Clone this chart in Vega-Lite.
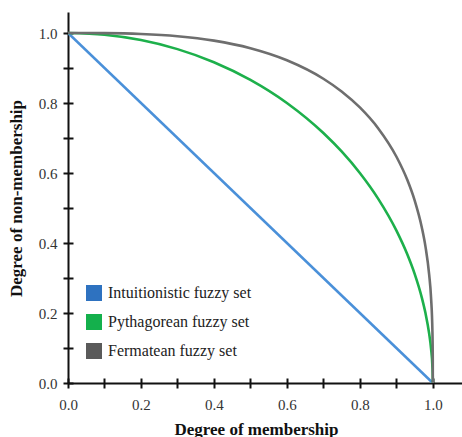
{
  "$schema": "https://vega.github.io/schema/vega-lite/v6.json",
  "autosize": "none",
  "width": 394,
  "height": 371,
  "padding": {"left": 68, "top": 12, "right": 0, "bottom": 54},
  "background": "white",
  "config": {
    "font": "Liberation Serif, Times New Roman, serif",
    "view": {"stroke": null},
    "axis": {"grid": false, "labelFlush": false, "domainColor": "#111", "domainWidth": 2, "tickColor": "#111", "tickWidth": 2, "labelFont": "Liberation Serif, Times New Roman, serif", "labelFontSize": 15, "labelColor": "#333", "titleFont": "Liberation Serif, Times New Roman, serif", "titleFontSize": 17, "titleFontWeight": "bold", "titleColor": "#111"}
  },
  "datasets": {
    "curves": [
      {"set": "Intuitionistic fuzzy set", "mu": 0, "nu": 1},
      {"set": "Intuitionistic fuzzy set", "mu": 1, "nu": 0},
      {"set": "Pythagorean fuzzy set", "mu": 0, "nu": 1},
      {"set": "Pythagorean fuzzy set", "mu": 0.1, "nu": 0.99499},
      {"set": "Pythagorean fuzzy set", "mu": 0.2, "nu": 0.9798},
      {"set": "Pythagorean fuzzy set", "mu": 0.3, "nu": 0.95394},
      {"set": "Pythagorean fuzzy set", "mu": 0.4, "nu": 0.91652},
      {"set": "Pythagorean fuzzy set", "mu": 0.5, "nu": 0.86603},
      {"set": "Pythagorean fuzzy set", "mu": 0.6, "nu": 0.8},
      {"set": "Pythagorean fuzzy set", "mu": 0.7, "nu": 0.71414},
      {"set": "Pythagorean fuzzy set", "mu": 0.75, "nu": 0.66144},
      {"set": "Pythagorean fuzzy set", "mu": 0.8, "nu": 0.6},
      {"set": "Pythagorean fuzzy set", "mu": 0.85, "nu": 0.52678},
      {"set": "Pythagorean fuzzy set", "mu": 0.9, "nu": 0.43589},
      {"set": "Pythagorean fuzzy set", "mu": 0.93, "nu": 0.36756},
      {"set": "Pythagorean fuzzy set", "mu": 0.95, "nu": 0.31225},
      {"set": "Pythagorean fuzzy set", "mu": 0.97, "nu": 0.2431},
      {"set": "Pythagorean fuzzy set", "mu": 0.98, "nu": 0.199},
      {"set": "Pythagorean fuzzy set", "mu": 0.99, "nu": 0.14107},
      {"set": "Pythagorean fuzzy set", "mu": 0.995, "nu": 0.09987},
      {"set": "Pythagorean fuzzy set", "mu": 0.999, "nu": 0.04471},
      {"set": "Pythagorean fuzzy set", "mu": 0.9999, "nu": 0.01414},
      {"set": "Pythagorean fuzzy set", "mu": 1, "nu": 0},
      {"set": "Fermatean fuzzy set", "mu": 0, "nu": 1},
      {"set": "Fermatean fuzzy set", "mu": 0.1, "nu": 0.99967},
      {"set": "Fermatean fuzzy set", "mu": 0.2, "nu": 0.99733},
      {"set": "Fermatean fuzzy set", "mu": 0.3, "nu": 0.99092},
      {"set": "Fermatean fuzzy set", "mu": 0.4, "nu": 0.97819},
      {"set": "Fermatean fuzzy set", "mu": 0.5, "nu": 0.95647},
      {"set": "Fermatean fuzzy set", "mu": 0.6, "nu": 0.92209},
      {"set": "Fermatean fuzzy set", "mu": 0.7, "nu": 0.86934},
      {"set": "Fermatean fuzzy set", "mu": 0.75, "nu": 0.83305},
      {"set": "Fermatean fuzzy set", "mu": 0.8, "nu": 0.78728},
      {"set": "Fermatean fuzzy set", "mu": 0.85, "nu": 0.72801},
      {"set": "Fermatean fuzzy set", "mu": 0.9, "nu": 0.64713},
      {"set": "Fermatean fuzzy set", "mu": 0.93, "nu": 0.58053},
      {"set": "Fermatean fuzzy set", "mu": 0.95, "nu": 0.52248},
      {"set": "Fermatean fuzzy set", "mu": 0.97, "nu": 0.44366},
      {"set": "Fermatean fuzzy set", "mu": 0.98, "nu": 0.38889},
      {"set": "Fermatean fuzzy set", "mu": 0.99, "nu": 0.30968},
      {"set": "Fermatean fuzzy set", "mu": 0.995, "nu": 0.24622},
      {"set": "Fermatean fuzzy set", "mu": 0.999, "nu": 0.14418},
      {"set": "Fermatean fuzzy set", "mu": 0.9999, "nu": 0.06693},
      {"set": "Fermatean fuzzy set", "mu": 1, "nu": 0}
    ]
  },
  "data": {"name": "curves"},
  "layer": [
    {
      "mark": {"type": "line", "strokeWidth": 2.6, "interpolate": "monotone", "clip": true},
      "encoding": {
        "x": {"field": "mu", "type": "quantitative", "scale": {"domain": [0, 1.08], "nice": false, "zero": false},
          "axis": {"title": "Degree of membership", "values": [0, 0.1, 0.2, 0.3, 0.4, 0.5, 0.6, 0.7, 0.8, 0.9, 1.0], "labelExpr": "round(datum.value*10) % 2 == 0 ? format(datum.value, '.1f') : ''", "tickSize": 5, "labelPadding": 9, "titleX": 188, "titlePadding": 9}},
        "y": {"field": "nu", "type": "quantitative", "scale": {"domain": [0, 1.06], "nice": false, "zero": false},
          "axis": {"title": "Degree of non-membership", "values": [0, 0.1, 0.2, 0.3, 0.4, 0.5, 0.6, 0.7, 0.8, 0.9, 1.0], "labelExpr": "round(datum.value*10) % 2 == 0 ? format(datum.value, '.1f') : ''", "tickSize": 5, "labelPadding": 6, "titleY": 186, "titlePadding": 13}},
        "color": {"field": "set", "type": "nominal",
          "scale": {"domain": ["Intuitionistic fuzzy set", "Pythagorean fuzzy set", "Fermatean fuzzy set"], "range": ["#4a90d9", "#1db04b", "#6e6e6e"]},
          "legend": {"title": null, "orient": "none", "legendX": 18, "legendY": 273, "symbolType": "square", "symbolSize": 256, "symbolStrokeWidth": 0, "labelFont": "Liberation Serif, Times New Roman, serif", "labelFontSize": 16, "labelColor": "#222", "rowPadding": 13, "labelOffset": 6,
            "encode": {"symbols": {"update": {"fill": {"signal": "datum.value == 'Intuitionistic fuzzy set' ? '#2e72c0' : datum.value == 'Pythagorean fuzzy set' ? '#14b04c' : '#5a5a5a'"}, "fillOpacity": {"value": 1}}}}}}
      }
    },
    {
      "mark": {"type": "line", "opacity": 0},
      "encoding": {
        "x": {"field": "mu", "type": "quantitative", "axis": {"orient": "bottom", "title": null, "labels": false, "domain": false, "values": [0, 0.1, 0.2, 0.3, 0.4, 0.5, 0.6, 0.7, 0.8, 0.9, 1.0], "tickSize": -5}},
        "y": {"field": "nu", "type": "quantitative", "axis": {"orient": "left", "title": null, "labels": false, "domain": false, "values": [0, 0.1, 0.2, 0.3, 0.4, 0.5, 0.6, 0.7, 0.8, 0.9, 1.0], "tickSize": -5}},
        "detail": {"field": "set"}
      }
    }
  ],
  "resolve": {"axis": {"x": "independent", "y": "independent"}}
}
